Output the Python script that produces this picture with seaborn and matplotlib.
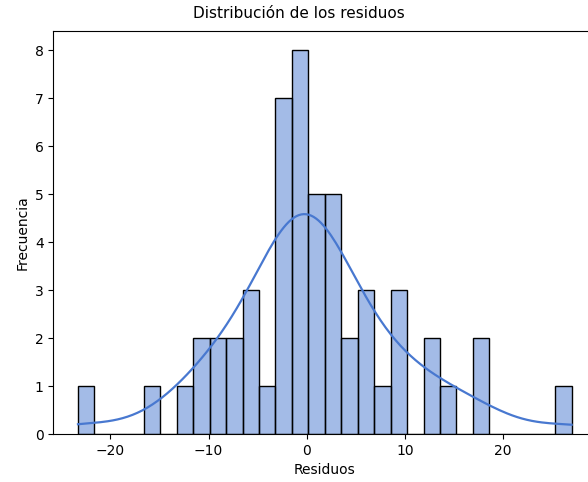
import matplotlib
matplotlib.use("Agg")
import matplotlib.pyplot as plt
import seaborn as sns
import pandas as pd

residuos = [-23.3, -15.8, -12.3, -11.1, -10.4, -9.4, -8.7, -7.8, -7.0, -6.2,
            -5.7, -5.2, -4.0, -3.0, -2.8, -2.5, -2.3, -2.1, -1.9, -1.7,
            -1.3, -1.1, -0.9, -0.7, -0.5, -0.4, -0.2, -0.1, 0.4, 0.7,
            1.0, 1.3, 1.6, 2.1, 2.4, 2.7, 3.0, 3.3, 4.0, 4.7,
            5.5, 6.0, 6.6, 7.7, 8.9, 9.4, 9.9, 12.4, 13.1, 14.4,
            17.4, 18.1, 27.0]

df = pd.DataFrame({"Residuos": residuos})

fig = plt.figure(figsize=(5.88, 4.82), dpi=100)
ax = fig.add_axes([53.3 / 588, 48 / 482, 543 / 588, 403 / 482])
sns.histplot(data=df, x="Residuos", bins=30, kde=True, color="#4878d0",
             alpha=0.5, edgecolor="black", linewidth=1.0, ax=ax,
             line_kws={"linewidth": 1.6})
ax.set_xlabel("Residuos", fontsize=10)
ax.set_ylabel("Frecuencia", fontsize=10)
fig.suptitle("Distribución de los residuos", x=299 / 588, y=1 - 6 / 482,
             va="top", fontsize=11)
fig.savefig("out.png", dpi=100)
